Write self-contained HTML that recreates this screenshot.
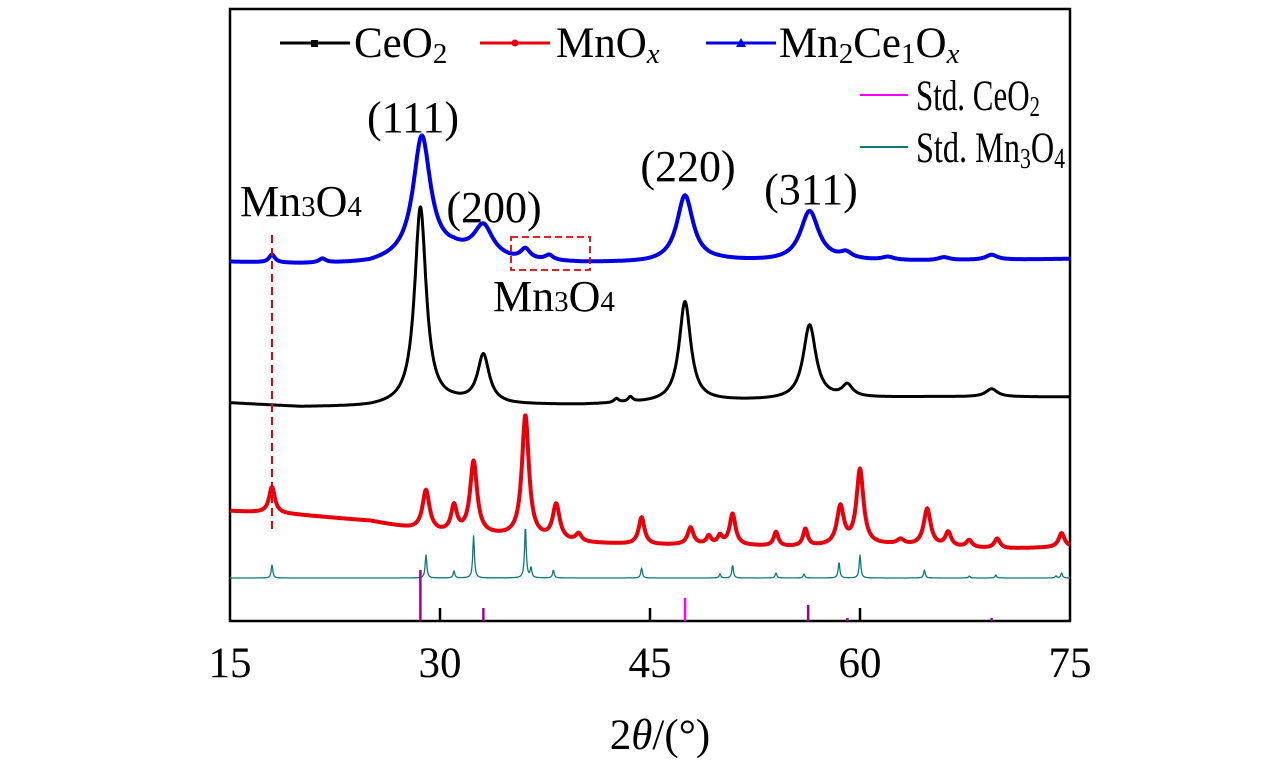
<!DOCTYPE html>
<html><head><meta charset="utf-8"><style>
html,body{margin:0;padding:0;background:#fff;}
svg{display:block;font-family:"Liberation Serif",serif;}
</style></head><body>
<svg id="chart" width="1276" height="763" viewBox="0 0 1276 763" xmlns="http://www.w3.org/2000/svg">
<rect x="230" y="9" width="840" height="612" fill="none" stroke="#000" stroke-width="2.5"/>
<g id="ticks"></g>
<g id="series"></g>
<line x1="272" y1="235" x2="272" y2="532" stroke="#e8000b" stroke-width="2" stroke-dasharray="8,5"/>
<rect x="511" y="237" width="79" height="33" fill="none" stroke="#e8000b" stroke-width="1.8" stroke-dasharray="7,4"/>
<g font-size="44" fill="#000">
<text x="413" y="132" text-anchor="middle">(111)</text>
<text x="494" y="222" text-anchor="middle">(200)</text>
<text x="688" y="181" text-anchor="middle">(220)</text>
<text x="811" y="204" text-anchor="middle">(311)</text>
<text x="240" y="216">Mn<tspan font-size="29">3</tspan>O<tspan font-size="29">4</tspan></text>
<text x="493" y="311">Mn<tspan font-size="29">3</tspan>O<tspan font-size="29">4</tspan></text>
</g>
<g font-size="43">
<line x1="280" y1="43" x2="350" y2="43" stroke="#000" stroke-width="3"/><rect x="311" y="40" width="7" height="7" fill="#000"/>
<text x="354" y="57">CeO<tspan font-size="29" dy="6">2</tspan></text>
<line x1="480" y1="43" x2="550" y2="43" stroke="#e8000b" stroke-width="3"/><circle cx="515" cy="43" r="3.5" fill="#e8000b"/>
<text x="556" y="57">MnO<tspan font-size="29" font-style="italic" dy="6">x</tspan></text>
<line x1="706" y1="43" x2="776" y2="43" stroke="#0000e6" stroke-width="3"/><polygon points="741,38 746,47 736,47" fill="#0000e6"/>
<text x="779" y="57">Mn<tspan font-size="29" dy="6">2</tspan><tspan dy="-6">Ce</tspan><tspan font-size="29" dy="6">1</tspan><tspan dy="-6">O</tspan><tspan font-size="29" font-style="italic" dy="6">x</tspan></text>
<line x1="860" y1="95" x2="908" y2="95" stroke="#ff00ff" stroke-width="2"/>
<text x="916" y="110" textLength="124" lengthAdjust="spacingAndGlyphs">Std. CeO<tspan font-size="29" dy="6">2</tspan></text>
<line x1="860" y1="147" x2="908" y2="147" stroke="#0d7a78" stroke-width="2"/>
<text x="916" y="162" textLength="149" lengthAdjust="spacingAndGlyphs">Std. Mn<tspan font-size="29" dy="6">3</tspan><tspan dy="-6">O</tspan><tspan font-size="29" dy="6">4</tspan></text>
</g>
<g id="xlabels" font-size="43"></g>
<text x="660" y="749" font-size="43" text-anchor="middle">2<tspan font-style="italic">θ</tspan>/(°)</text>
</svg>
<script>
const xTicks=[15,30,45,60,75];
const blueBaseX=[15,20,25,28,31,35,40,45,50,55,60,65,70,75];
const blueBaseY=[359,357,357,362,368,360,358,358,360,359,360,360,361,362];
const bluePeakPos=[18.0,21.6,28.7,33.1,36.1,37.8,47.5,56.4,59.0,62.0,66.0,69.4];
const bluePeakH=[8,4,121,30,10,5,66,50,6,3,3,5];
const bluePeakW=[0.5,0.6,1.5,1.6,0.8,0.7,1.4,1.6,1.0,1.0,1.0,1.0];
const blackBaseX=[15,20,25,28,31,35,40,45,50,55,60,65,70,75];
const blackBaseY=[218,214,214,216,218,216,216,218,220,221,223,224,224,224];
const blackPeakPos=[28.6,33.1,42.6,43.6,47.5,56.4,59.1,69.4];
const blackPeakH=[197,48,4,5,100,74,12,8];
const blackPeakW=[1.0,1.0,0.4,0.4,1.0,1.1,0.9,1.0];
const redBaseX=[15,18,20,25,28,30,33,35,40,45,50,55,62,70,75];
const redBaseY=[110,108,106,100,92,88,86,84,78,76,76,74,76,72,74];
const redPeakPos=[18.0,29.0,31.0,32.4,36.1,38.3,39.9,44.4,47.9,49.2,50.0,50.9,54.0,56.1,58.6,60.0,62.9,64.8,66.3,67.8,69.8,74.4];
const redPeakH=[26,40,26,72,122,35,8,27,17,8,8,31,14,17,38,75,5,37,14,7,10,14];
const redPeakW=[0.5,0.6,0.5,0.6,0.6,0.6,0.5,0.5,0.5,0.4,0.4,0.5,0.4,0.4,0.6,0.6,0.6,0.6,0.5,0.5,0.5,0.5];
const tealBase=43;
const tealPos=[18.0,29.0,31.0,32.4,36.1,36.5,38.1,44.4,50.0,50.9,54.0,56.0,58.5,60.0,64.6,67.8,69.7,74.0,74.4];
const tealH=[13,23,7,42,52,10,8,10,4,13,5,4,16,23,8,2,3,2,5];
const ceStickPos=[28.6,33.1,47.5,56.3,59.1,69.4];
const ceStickH=[51,13,23,16,3,3];
const ceStickColor=['#a0009f','#a0009f','#ff00ff','#a0009f','#a0009f','#a0009f'];
const blackTickPos=[30,45,60];

const X=v=>230+(v-15)*14;
const Y=v=>621-v;
const NS='http://www.w3.org/2000/svg';
function interp(xs,ys,x){if(x<=xs[0])return ys[0];for(let i=1;i<xs.length;i++){if(x<=xs[i]){const t=(x-xs[i-1])/(xs[i]-xs[i-1]);return ys[i-1]+t*(ys[i]-ys[i-1]);}}return ys[ys.length-1];}
function curve(bx,by,pp,ph,pw,x){let v=bx?interp(bx,by,x):by;for(let i=0;i<pp.length;i++){const d=(x-pp[i])/(pw[i]/2);v+=ph[i]/(1+d*d);}return v;}
function addPath(name,color,width,fn){let d='';for(let x=15;x<=75.0001;x+=0.04){d+=(d?'L':'M')+X(x).toFixed(1)+','+Y(fn(x)).toFixed(1);}
const p=document.createElementNS(NS,'path');p.setAttribute('d',d);p.setAttribute('fill','none');p.setAttribute('stroke',color);p.setAttribute('stroke-width',width);p.setAttribute('stroke-linejoin','round');


document.getElementById('series').appendChild(p);}
addPath('std-mn3o4-line','#0d7a78',1.3,x=>{let v=tealBase;for(let i=0;i<tealPos.length;i++){const d=(x-tealPos[i])/0.07;v+=tealH[i]/(1+d*d);}return v;});
addPath('mnox-line','#e8000b',4,x=>curve(redBaseX,redBaseY,redPeakPos,redPeakH,redPeakW,x));
addPath('ceo2-line','#000',3,x=>curve(blackBaseX,blackBaseY,blackPeakPos,blackPeakH,blackPeakW,x));
addPath('mn2ce1ox-line','#0000e6',4,x=>curve(blueBaseX,blueBaseY,bluePeakPos,bluePeakH,bluePeakW,x));
const s=document.getElementById('series');
ceStickPos.forEach((p,i)=>{const l=document.createElementNS(NS,'line');l.setAttribute('x1',X(p));l.setAttribute('x2',X(p));l.setAttribute('y1',Y(0));l.setAttribute('y2',Y(ceStickH[i]));l.setAttribute('stroke',ceStickColor[i]);l.setAttribute('stroke-width',2.5);


s.appendChild(l);});
const tg=document.getElementById('ticks');
blackTickPos.forEach(p=>{const l=document.createElementNS(NS,'line');l.setAttribute('x1',X(p));l.setAttribute('x2',X(p));l.setAttribute('y1',621);l.setAttribute('y2',608);l.setAttribute('stroke','#000');l.setAttribute('stroke-width',2.5);


tg.appendChild(l);});
const xl=document.getElementById('xlabels');
xTicks.forEach(t=>{const e=document.createElementNS(NS,'text');e.setAttribute('x',X(t));e.setAttribute('y',677);e.setAttribute('text-anchor','middle');e.textContent=t;


xl.appendChild(e);});
</script>
</body></html>
